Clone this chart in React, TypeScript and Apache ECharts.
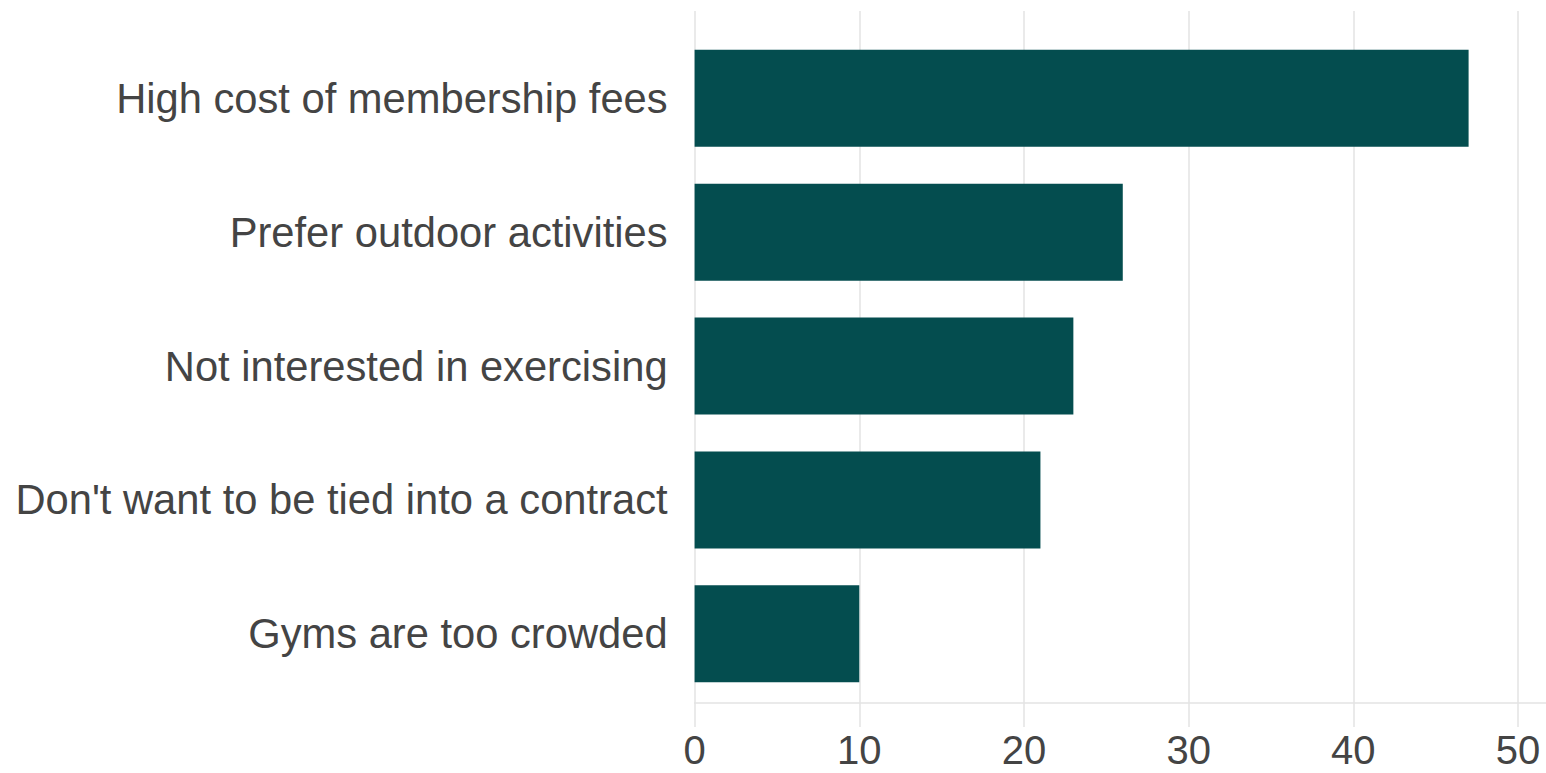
import React, { useEffect, useRef } from "react";
import * as echarts from "echarts";

const categories = [
  "High cost of membership fees",
  "Prefer outdoor activities",
  "Not interested in exercising",
  "Don't want to be tied into a contract",
  "Gyms are too crowded",
];
const values = [47, 26, 23, 21, 10];
const xTicks = [0, 10, 20, 30, 40, 50];
const xMax = 51.7;

export default function App() {
  const ref = useRef<HTMLDivElement>(null);
  useEffect(() => {
    if (!ref.current) return;
    const chart = echarts.init(ref.current, null, { renderer: "svg" });
    const gridColor = "#e3e3e3";
    const textColor = "#444444";
    const font = "Liberation Sans, Arial, sans-serif";
    chart.setOption({
      animation: false,
      backgroundColor: "#ffffff",
      grid: [
        { left: 694.6, right: 0, top: 11, bottom: 70 },
        { left: 694.6, right: 0, top: 31.4, bottom: 72.3 },
      ],
      xAxis: [
        {
          type: "value",
          gridIndex: 0,
          min: 0,
          max: xMax,
          axisLine: { show: true, lineStyle: { color: gridColor, width: 1.5 } },
          axisTick: {
            show: true,
            length: 24,
            customValues: xTicks,
            lineStyle: { color: gridColor, width: 1.5 },
          },
          axisLabel: {
            customValues: xTicks,
            color: textColor,
            fontSize: 40,
            lineHeight: 40,
            fontFamily: font,
            margin: 27,
          },
          splitLine: { show: true, lineStyle: { color: gridColor, width: 1.5 } },
        },
        {
          type: "value",
          gridIndex: 1,
          min: 0,
          max: xMax,
          show: false,
        },
      ],
      yAxis: [
        { type: "value", gridIndex: 0, min: 0, max: 1, show: false },
        {
          type: "category",
          gridIndex: 1,
          data: categories,
          inverse: true,
          axisLine: { show: false },
          axisTick: { show: false },
          splitLine: { show: false },
          axisLabel: {
            color: textColor,
            fontSize: 41.7,
            fontFamily: font,
            margin: 27,
          },
        },
      ],
      series: [
        {
          type: "bar",
          xAxisIndex: 1,
          yAxisIndex: 1,
          data: values,
          barWidth: "72.5%",
          itemStyle: { color: "#044d4f" },
        },
      ],
    });
    return () => chart.dispose();
  }, []);
  return (
    <div
      ref={ref}
      style={{ position: "fixed", left: 0, top: 0, width: 1546, height: 773 }}
    />
  );
}
